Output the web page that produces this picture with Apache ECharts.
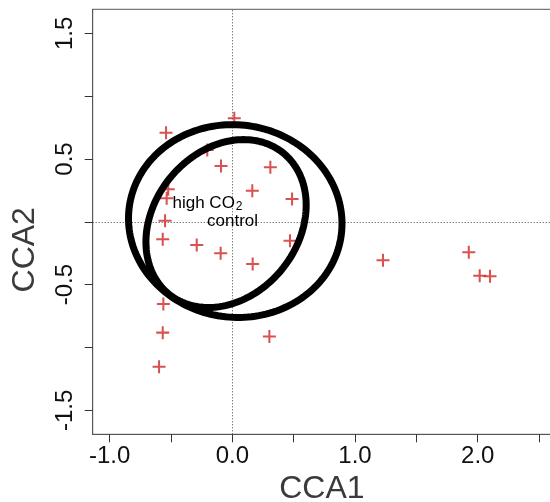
<!DOCTYPE html>
<html><head><meta charset="utf-8">
<script src="https://cdn.jsdelivr.net/npm/echarts@6/dist/echarts.min.js"></script>
<style>html,body{margin:0;padding:0;background:#fff}#c{width:550px;height:502px}</style>
</head><body><div id="c"></div>
<script>
// site scores (CCA1, CCA2)
const siteX = [-0.540, 0.016, -0.204, -0.092, 0.310, -0.522, -0.535, 0.163, 0.487, -0.548, -0.567, -0.290, 0.470, -0.095, 0.166, -0.562, -0.567, 0.302, -0.597, 1.228, 1.927, 2.016, 2.100];
const siteY = [0.709, 0.824, 0.571, 0.444, 0.434, 0.259, 0.187, 0.247, 0.181, 0.009, -0.139, -0.185, -0.150, -0.251, -0.336, -0.654, -0.882, -0.913, -1.153, -0.306, -0.243, -0.429, -0.434];
// axis ticks
const xTicks = [-1, -0.5, 0, 0.5, 1, 1.5, 2, 2.5];
const xTickLabels = [-1, 0, 1, 2];
const yTicks = [-1.5, -1, -0.5, 0, 0.5, 1, 1.5];
const yTickLabels = [-1.5, -0.5, 0.5, 1.5];
// group ellipses: centre, semi-axes, rotation (deg)
const groupNames = ['control', 'high CO2'];
const ellipseCX = [0.024, -0.051];
const ellipseCY = [0.006, -0.014];
const ellipseA = [0.871, 0.730];
const ellipseB = [0.766, 0.583];
const ellipseAngle = [-6, 48];
// group labels
const labelText = ['control', 'high CO{sub|2}'];
const labelX = [0.002, -0.202];
const labelY = [0.002, 0.146];

const chart = echarts.init(document.getElementById('c'), null, {renderer: 'canvas'});
const FONT = '"Liberation Sans", Arial, Helvetica, sans-serif';

const ellipseData = groupNames.map((n, i) => [ellipseCX[i], ellipseCY[i], ellipseA[i], ellipseB[i], ellipseAngle[i]]);
const labelData = labelText.map((t, i) => [labelX[i], labelY[i], t]);

const option = {
  animation: false,
  backgroundColor: '#fff',
  grid: {left: 92.7, top: 9.3, bottom: 67.7, right: -1, show: true, borderColor: '#555', borderWidth: 1, containLabel: false, outerBoundsMode: 'none'},
  xAxis: {
    type: 'value', min: -1.1377, max: 2.597,
    name: 'CCA1', nameLocation: 'middle', nameGap: 38,
    nameTextStyle: {fontFamily: FONT, fontSize: 32, color: '#3a3a3a'},
    axisLine: {show: true, onZero: false, lineStyle: {color: '#555', width: 1}},
    axisTick: {show: true, inside: false, length: 8, customValues: xTicks, lineStyle: {color: '#333', width: 1}},
    axisLabel: {show: true, margin: 10, customValues: xTickLabels, fontFamily: FONT, fontSize: 24, color: '#111', formatter: v => Number(v).toFixed(1)},
    splitLine: {show: false}
  },
  yAxis: {
    type: 'value', min: -1.691, max: 1.691,
    name: 'CCA2', nameLocation: 'middle', nameGap: 52,
    nameTextStyle: {fontFamily: FONT, fontSize: 32, color: '#3a3a3a', padding: [0, 56, 0, 0]},
    axisLine: {show: true, onZero: false, lineStyle: {color: '#555', width: 1}},
    axisTick: {show: true, inside: false, length: 8, customValues: yTicks, lineStyle: {color: '#333', width: 1}},
    axisLabel: {show: true, margin: 15, rotate: 90, customValues: yTickLabels, fontFamily: FONT, fontSize: 24, color: '#111', formatter: v => Number(v).toFixed(1)},
    splitLine: {show: false}
  },
  series: [
    {
      type: 'scatter', z: 2,
      symbol: 'path://M-1.1,-7 H1.1 V-1.1 H7 V1.1 H1.1 V7 H-1.1 V1.1 H-7 V-1.1 H-1.1 Z',
      symbolSize: 13,
      itemStyle: {color: '#cf2626'},
      data: siteX.map((x, i) => [x, siteY[i]]),
      markLine: {
        silent: true, symbol: 'none', z: 1, animation: false,
        label: {show: false},
        lineStyle: {type: [1, 2], color: '#444', width: 1},
        data: [{xAxis: 0}, {yAxis: 0}]
      }
    },
    {
      type: 'custom', z: 3, silent: true,
      data: ellipseData,
      encode: {x: 0, y: 1},
      renderItem: function (params, api) {
        const cx = api.value(0), cy = api.value(1), a = api.value(2), b = api.value(3);
        const th = api.value(4) * Math.PI / 180;
        const pts = [];
        const N = 180;
        for (let k = 0; k < N; k++) {
          const t = 2 * Math.PI * k / N;
          const dx = a * Math.cos(t), dy = b * Math.sin(t);
          pts.push(api.coord([cx + dx * Math.cos(th) - dy * Math.sin(th), cy + dx * Math.sin(th) + dy * Math.cos(th)]));
        }
        return {type: 'polygon', shape: {points: pts}, style: {fill: 'none', stroke: '#000', lineWidth: 7}};
      }
    },
    {
      type: 'custom', z: 4, silent: true,
      data: labelData,
      encode: {x: 0, y: 1},
      renderItem: function (params, api) {
        const p = api.coord([api.value(0), api.value(1)]);
        return {
          type: 'text', x: p[0], y: p[1],
          style: {
            text: labelData[params.dataIndex][2],
            fontFamily: FONT, fontSize: 17, fill: '#000',
            align: 'center', verticalAlign: 'middle',
            rich: {sub: {fontFamily: FONT, fontSize: 12, fill: '#000', padding: [7, 0, 0, 1]}}
          }
        };
      }
    }
  ]
};
chart.setOption(option);
</script>
</body></html>
